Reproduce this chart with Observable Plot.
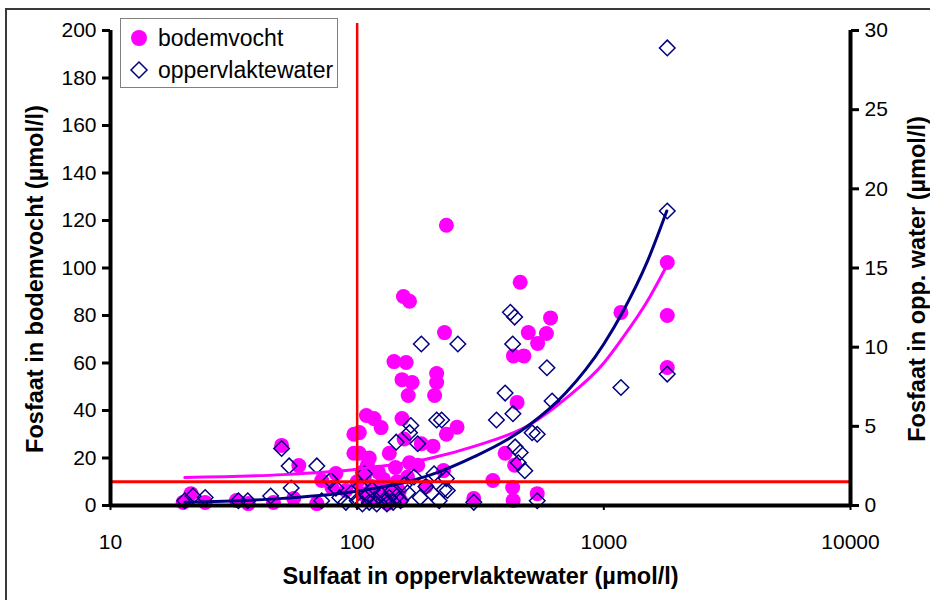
<!DOCTYPE html>
<html><head><meta charset="utf-8">
<script src="https://cdn.jsdelivr.net/npm/d3@7"></script>
<script src="https://cdn.jsdelivr.net/npm/@observablehq/plot@0.6"></script>
<style>
body{margin:0;background:#fff;font-family:"Liberation Sans",Arial,sans-serif;}
#wrap{position:relative;width:930px;height:600px;overflow:hidden;background:#fff}
#frame{position:absolute;left:5px;top:8px;width:940px;height:610px;border-left:2px solid #3a3a3a;border-top:2px solid #3a3a3a;pointer-events:none}
#legend{position:absolute;left:120px;top:18px;width:216px;height:68px;border:1px solid #808080;background:#fff;font-size:23px;color:#000}
#legend .it{position:absolute;left:6px;height:30px;display:flex;align-items:center}
#legend svg{width:24px;height:24px;margin-right:7px}
</style></head>
<body>
<div id="wrap">
  <div id="chart"></div>
  <div id="frame"></div>
  <div id="legend">
    <div class="it" style="top:4px"><svg viewBox="-12 -12 24 24"><circle r="8" fill="#FF00FF"/></svg><span>bodemvocht</span></div>
    <div class="it" style="top:36px"><svg viewBox="-12 -12 24 24"><path d="M0,-8L8,0L0,8L-8,0Z" fill="none" stroke="#000080" stroke-width="1.5"/></svg><span>oppervlaktewater</span></div>
  </div>
</div>
<script>
// bodemvocht: sulfaat (x) vs fosfaat in bodemvocht (left axis)
const bodemX = [19.7,21.2,24.2,32.4,36.2,45.8,49.4,55.3,58,68.6,71.8,79,82,90,97,97,100,102,102,105,105,107,109,110,112,112,115,117,118,120,122,125,128,130,133,135,138,140,141,143,145,148,150,152,152,154,155,158,160,161,163,163,167,176,182,190,203,206,210,210,224,226,230,230,254,297,355,398,427,429,430,435,445,458,474,494,537,539,585,608,1173,1808,1808,1808];
const bodemY = [1.3,5,1.3,2.1,0.8,1.3,25.3,3,16.8,0.8,10.5,7.6,13.5,6.3,30,22,10,30.7,22,5,14,12,37.9,17,3,20,8,36.6,5,2,14,32.8,11,6,1,22,8,3,60.6,16,10,6,2,53,36.6,88,28,60.2,12,46.3,86,18,51.8,17,26,8,25,46.3,55.6,51.8,14.7,72.8,118,30,33,3,10.5,22,7.6,2.1,63,17,43.4,94,63,72.8,5,68.2,72.4,79,81.3,102.3,80,58.1];
// oppervlaktewater: sulfaat (x) vs fosfaat in opp. water (right axis)
const oppX = [20,21.6,24.2,33,36,44.6,49.4,53,54,68.6,71.8,78,82,85,90,95,100,103,105,107,110,112,115,118,120,125,128,132,135,138,140,144,145,150,155,160,163,165,170,176,180,182,190,200,205,210,215,220,225,230,232,256,297,367,398,418,427,428,435,437,450,458,478,512,537,537,588,617,1173,1808,1808,1808];
const oppY = [0.3,0.6,0.5,0.3,0.3,0.6,3.6,2.5,1.1,2.5,0.3,1.6,1.1,0.5,0.2,0.8,0.3,1.2,0.1,2.0,0.6,0.2,1.0,0.4,0.1,0.7,0.3,0.1,0.5,0.9,0.2,4.0,0.6,0.3,1.3,0.8,4.6,5.05,1.8,3.9,0.5,10.2,1.2,0.8,2.0,5.4,0.3,5.4,1.0,1.7,0.95,10.2,0.2,5.4,7.1,12.2,10.2,5.8,11.9,3.7,2.7,3.35,2.2,4.6,4.5,0.3,8.7,6.6,7.45,28.9,18.6,8.3];
// trend lines
const trendBodemX = [20,50,100,200,300,500,700,1000,1200,1500,1800];
const trendBodemY = [11.8,13,15.3,20,25,34,45,60,71,86,101];
const trendOppX = [20,50,100,150,200,300,400,500,700,1000,1200,1500,1800];
const trendOppY = [0.2,0.45,0.9,1.4,1.95,3.1,4.1,5.1,7.1,10.2,12.3,15.4,18.6];
// reference lines
const refSulfaat = [100];
const refFosfaat = [10];
// axes
const xTicks = [10,100,1000,10000];
const leftTicks = [0,20,40,60,80,100,120,140,160,180,200];
const rightTicks = [0,5,10,15,20,25,30];
const leftMax = 200, rightMax = 30;

const R = leftMax / rightMax;
const bodem = bodemX.map((x,i)=>({x, y: bodemY[i]}));
const opp = oppX.map((x,i)=>({x, y: oppY[i]}));
const tB = trendBodemX.map((x,i)=>({x, y: trendBodemY[i]}));
const tO = trendOppX.map((x,i)=>({x, y: trendOppY[i]}));

const chart = Plot.plot({
  width: 930, height: 600,
  marginLeft: 110, marginRight: 80, marginTop: 30, marginBottom: 95,
  style: {fontFamily: "'Liberation Sans', Arial, sans-serif", fontSize: "21px", background: "transparent", overflow: "visible", color: "#000"},
  x: {type: "log", domain: [10, 10000]},
  y: {domain: [0, leftMax]},
  marks: [
    Plot.dot(bodem, {x: "x", y: "y", r: 7.5, fill: "#FF00FF"}),
    Plot.dot(opp, {x: "x", y: d => d.y * R, r: 7, symbol: "diamond2", stroke: "#000080", strokeWidth: 1.5, fill: "none"}),
    Plot.line(tB, {x: "x", y: "y", stroke: "#FF00FF", strokeWidth: 3, curve: "monotone-x"}),
    Plot.line(tO, {x: "x", y: d => d.y * R, stroke: "#000080", strokeWidth: 3, curve: "monotone-x"}),
    Plot.ruleX(refSulfaat, {y1: 0, y2: 203, stroke: "#FF0000", strokeWidth: 2.5, clip: false}),
    Plot.ruleY(refFosfaat, {stroke: "#FF0000", strokeWidth: 3}),
    Plot.ruleY([0], {stroke: "#000", strokeWidth: 4}),
    Plot.ruleX([10], {stroke: "#000", strokeWidth: 4}),
    Plot.ruleX([10000], {stroke: "#000", strokeWidth: 4}),
    Plot.axisY(leftTicks, {anchor: "left", tickSize: 8, tickPadding: 6, strokeWidth: 3, label: null, fontSize: 21}),
    Plot.axisY(rightTicks.map(v => v * R), {anchor: "right", tickSize: 8, tickPadding: 6, strokeWidth: 3, label: null, fontSize: 21, tickFormat: d => String(Math.round(d / R))}),
    Plot.axisX(xTicks, {anchor: "bottom", tickSize: 5, tickPadding: 24, strokeWidth: 2, label: null, fontSize: 21, tickFormat: d => String(d)}),
    Plot.text(["Fosfaat in bodemvocht (µmol/l)"], {frameAnchor: "left", textAnchor: "middle", dx: -75, dy: 11, rotate: -90, fontWeight: "bold", fontSize: 23.5}),
    Plot.text(["Fosfaat in opp. water (µmol/l)"], {frameAnchor: "right", textAnchor: "middle", dx: 67, dy: 11, rotate: -90, fontWeight: "bold", fontSize: 23.5}),
    Plot.text(["Sulfaat in oppervlaktewater (µmol/l)"], {frameAnchor: "bottom", dy: 78, fontWeight: "bold", fontSize: 23.5})
  ]
});
document.getElementById("chart").appendChild(chart);
</script>
</body></html>
